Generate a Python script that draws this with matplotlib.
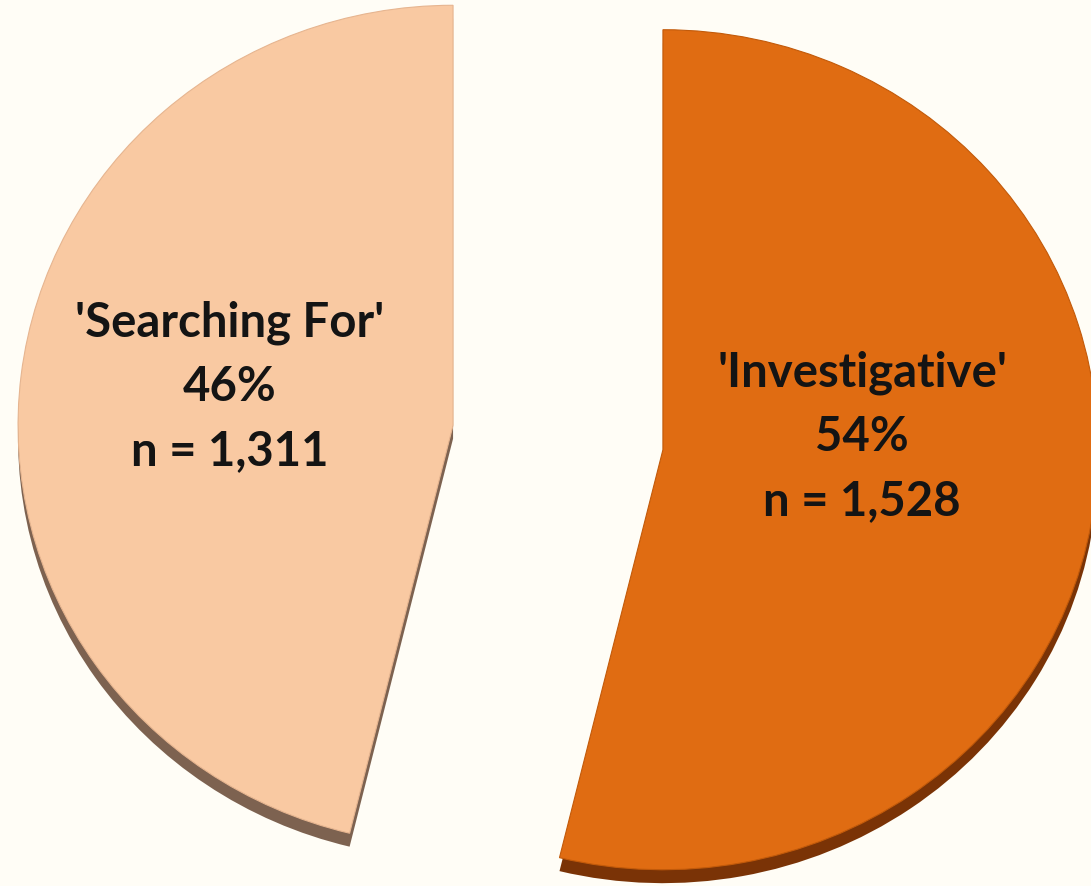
import matplotlib
matplotlib.use("Agg")
import matplotlib.pyplot as plt

# Data: clockwise from 12 o'clock
categories = ["Investigative", "Searching For"]
counts = [1528, 1311]
percents = [54, 46]

# Colours (top face, side/shadow)
face_colors = ["#e06c12", "#f9c9a2"]
side_colors = ["#7a3306", "#7d6250"]
bg = "#fffdf6"

explode = [0.243, 0.243]
# label centres in axes data units (relative to unexploded pie centre)
label_pos = [(0.699, 0.004), (-0.754, 0.123)]

fig = plt.figure(figsize=(10.91, 8.87), dpi=100, facecolor=bg)
ax = fig.add_axes([0, 0, 1, 1])
ax.set_facecolor(bg)

# side / thickness of the 3D pie, drawn slightly lower behind the top face
ax.pie(counts, colors=side_colors, startangle=90, counterclock=False,
       explode=explode, center=(0, -0.032), radius=1.0,
       wedgeprops=dict(linewidth=0, zorder=1))

wedges, _ = ax.pie(counts, colors=face_colors, startangle=90, counterclock=False,
                   explode=explode, radius=1.0,
                   wedgeprops=dict(linewidth=0.8, zorder=2))
wedges[0].set_edgecolor("#c25a0a")
wedges[1].set_edgecolor("#e6b590")

for cat, n, pct, (x, y) in zip(categories, counts, percents, label_pos):
    ax.text(x, y, f"'{cat}'\n{pct}%\nn = {n:,}", ha="center", va="center",
            fontsize=34, fontweight="bold", family=["Lato", "DejaVu Sans"],
            color="#141414", linespacing=1.55, zorder=5)

# pie drawn slightly wider than tall, as in the tilted original
ax.set_aspect("auto")
ax.set_xlim(-558 / 435, (1091 - 558) / 435)
ax.set_ylim(-(887 - 438.5) / 420, 438.5 / 420)
ax.axis("off")

fig.savefig("out.png", dpi=100, facecolor=bg)
